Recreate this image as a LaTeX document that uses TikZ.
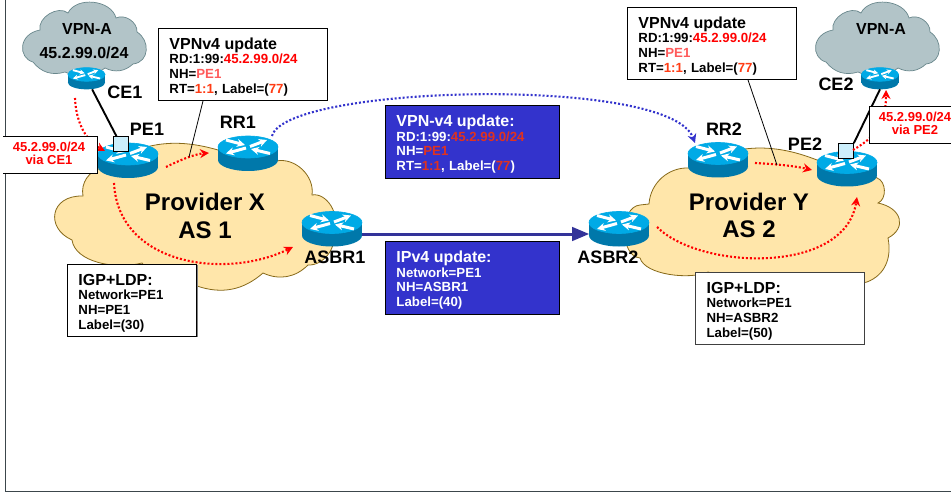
\documentclass[tikz,border=0pt]{standalone}
\usepackage{fontspec}
\setmainfont{Liberation Sans}
\usetikzlibrary{arrows,arrows.meta,positioning,shapes,calc}
\definecolor{cloudgray}{RGB}{178,196,200}
\definecolor{clouddark}{RGB}{105,135,140}
\definecolor{cloudsand}{RGB}{255,230,170}
\definecolor{sandedge}{RGB}{135,105,25}
\definecolor{routertop}{RGB}{0,170,230}
\definecolor{routerside}{RGB}{0,120,170}
\definecolor{boxblue}{RGB}{51,51,204}
\definecolor{linkblue}{RGB}{51,51,153}
\definecolor{hopred}{RGB}{255,0,0}
\definecolor{nhred}{RGB}{255,90,90}
\definecolor{rtred}{RGB}{255,60,20}
\definecolor{darkred}{RGB}{225,50,30}
\definecolor{framegray}{RGB}{60,70,75}
\tikzset{
    routernode/.style={inner sep=0pt,outer sep=0pt},
    rlabel/.style={font=\bfseries\fontsize{18}{20}\selectfont,inner sep=0pt},
    cloudlabel/.style={font=\bfseries\fontsize{16}{18}\selectfont,inner sep=0pt},
    aslabel/.style={font=\bfseries\fontsize{24}{28}\selectfont,inner sep=0pt},
    redlabel/.style={font=\bfseries\fontsize{13}{13}\selectfont,text=hopred,inner sep=0pt},
    infobox/.style={draw=black,fill=white,line width=0.9pt,anchor=north west,align=left,
        inner xsep=11pt,inner ysep=0pt,font=\bfseries\fontsize{13.25}{14.7}\selectfont},
    bluebox/.style={infobox,fill=boxblue,text=white},
    hop/.style={draw=hopred,line width=2.1pt,dash pattern=on 2pt off 2pt,-{Stealth[length=9pt,width=9pt]}},
    signal/.style={draw=boxblue,line width=2.1pt,dash pattern=on 2pt off 2pt,-{Stealth[length=9pt,width=9pt]}},
    leader/.style={draw=black,line width=0.8pt},
    access/.style={draw=black,line width=1.9pt},
    portbox/.style={draw=black,fill=cyan!20,line width=0.7pt,minimum size=15pt,inner sep=0pt},
}
\newcommand{\bigline}[1]{{\rule{0pt}{16pt}\fontsize{16}{18}\selectfont #1}}
% router: name, x, y, scale
\newcommand{\routericon}[4]{
    \node[routernode,minimum width=#4*60pt,minimum height=#4*35pt] (#1) at (#2,#3) {};
    \begin{scope}[shift={(#2,#3)},scale=#4]
        \fill[routerside] (-30,-6.5) rectangle (30,6.5);
        \fill[routerside] (0,6.5) ellipse (30 and 11);
        \draw[routertop,fill=routertop,line width=0.6pt] (0,-6.5) ellipse (30 and 11);
        \draw[white,line width=#4*3pt,-{Stealth[length=#4*8pt,width=#4*8pt]}] (2,-7) -- (19,-13.5);
        \draw[white,line width=#4*3pt,-{Stealth[length=#4*8pt,width=#4*8pt]}] (-2,-5.5) -- (-22,0);
        \draw[white,line width=#4*3pt,-{Stealth[length=#4*8pt,width=#4*8pt]}] (-22,-13.5) -- (-3,-8.5);
        \draw[white,line width=#4*3pt,-{Stealth[length=#4*8pt,width=#4*8pt]}] (22,0) -- (3,-4.5);
    \end{scope}
}
% gray site cloud, shifted sideways
\newcommand{\sitecloud}[1]{
    \draw[shift={(#1,0)},draw=clouddark,fill=cloudgray,line width=0.7pt]
        (33,62) .. controls (18,58) and (18,34) .. (40,30) to[bend left=70] (68,13)
        to[bend left=70] (116,18) to[bend left=60] (137,32)
        .. controls (150,40) and (150,62) .. (133,64) to[bend left=35] (105,68)
        to[bend left=30] (65,72) to[bend left=35] (33,62) -- cycle;
}
\begin{document}
\begin{tikzpicture}[x=1pt,y=-1pt]
    \useasboundingbox (0,0) rectangle (951,492);
    \draw[framegray,line width=1pt] (5,0) -- (5,491) -- (951,491);

    % clouds
    \sitecloud{0}
    \sitecloud{793}
    \draw[draw=sandedge,fill=cloudsand,line width=0.8pt]
        (83,196) to[bend left=45] (102,168) to[bend left=25] (218,150) to[bend left=15] (276,161)
        to[bend left=55] (312,195) to[bend left=70] (332,228) to[bend left=60] (308,265)
        to[bend left=35] (263,273) to[bend left=30] (197,286) to[bend left=30] (142,263)
        .. controls (115,270) and (75,262) .. (72,240)
        .. controls (45,228) and (50,195) .. (83,196) -- cycle;
    \draw[draw=sandedge,fill=cloudsand,line width=0.8pt]
        (649,204) to[bend left=45] (690,168) to[bend left=25] (817,160) to[bend left=25] (877,178)
        to[bend left=70] (878,203) .. controls (902,208) and (907,228) .. (888,238)
        .. controls (892,258) and (885,275) .. (867,282)
        to[bend left=15] (708,272) .. controls (690,280) and (645,275) .. (640,258)
        to[bend left=85] (640,205) -- cycle;

    % routers
    \routericon{ce1}{86.5}{78.5}{0.62}
    \routericon{pe1}{128}{160.5}{1}
    \routericon{rr1}{248}{153.5}{1}
    \routericon{asbr1}{332}{229}{1}
    \routericon{asbr2}{619}{229}{1}
    \routericon{rr2}{718}{160}{1}
    \routericon{pe2}{847}{169}{1}
    \routericon{ce2}{880}{78.5}{0.62}

    \node[portbox] (port1) at (120.5,144) {};
    \node[portbox] (port2) at (846,151) {};
    \draw[access] (ce1) -- (port1);
    \draw[access] (ce2.south) -- (port2.north east);
    \draw[linkblue,line width=3pt,-triangle 45] ([yshift=-5pt]asbr1.east) -- ([yshift=-5pt]asbr2.west);

    % labels on the routers
    \node[rlabel] (ce1name) at (125,92) {CE1};
    \node[rlabel] (pe1name) at (147,129) {PE1};
    \node[rlabel] (rr1name) at (238,122) {RR1};
    \node[rlabel] (asbr1name) at (335,257) {ASBR1};
    \node[rlabel] (asbr2name) at (608,257) {ASBR2};
    \node[rlabel] (rr2name) at (724,129) {RR2};
    \node[rlabel] (pe2name) at (805,144) {PE2};
    \node[rlabel] (ce2name) at (836,84) {CE2};
    \node[cloudlabel] (vpna1) at (87,29) {VPN-A};
    \node[cloudlabel] (vpnnet) at (84,53) {45.2.99.0/24};
    \node[cloudlabel] (vpna2) at (881,29) {VPN-A};
    \node[aslabel] (provx) at (205,202) {Provider X};
    \node[aslabel] (asone) at (205,230) {AS 1};
    \node[aslabel] (provy) at (749,202) {Provider Y};
    \node[aslabel] (astwo) at (749,229) {AS 2};

    % route propagation
    \coordinate (hopa) at (75,98);
    \coordinate (hopb) at (105,151);
    \draw[hop] (hopa) .. controls (76,125) and (88,142) .. (hopb);
    \coordinate (hopc) at (166,167);
    \coordinate (hopd) at (209,153);
    \draw[hop] (hopc) .. controls (180,160) and (195,154) .. (hopd);
    \coordinate (hope) at (114,183);
    \coordinate (hopf) at (293,247);
    \draw[hop] (hope) .. controls (118,265) and (225,280) .. (hopf);
    \coordinate (hopg) at (755,163);
    \coordinate (hoph) at (812,170);
    \draw[hop] (hopg) .. controls (775,164) and (795,166) .. (hoph);
    \coordinate (hopi) at (657,227);
    \coordinate (hopj) at (857,197);
    \draw[hop] (hopi) .. controls (700,270) and (845,275) .. (hopj);
    \coordinate (hopk) at (853,150);
    \coordinate (hopl) at (886,90);
    \draw[hop] (hopk) .. controls (875,137) and (886,125) .. (hopl);
    \coordinate (siga) at (272,136);
    \coordinate (sigb) at (695,143);
    \draw[signal] (siga) .. controls (285,85) and (670,75) .. (sigb);

    % boxes
    \draw[fill=white,line width=0.9pt] (3,136) -| (97,173) -- (3,173);
    \node[redlabel] (viace1a) at (49,147) {45.2.99.0/24};
    \node[redlabel] (viace1b) at (49,160) {via CE1};
    \draw[fill=white,line width=0.9pt] (953,106) -| (869,143) -- (953,143);
    \node[redlabel] (viape2a) at (915,117) {45.2.99.0/24};
    \node[redlabel] (viape2b) at (915,130) {via PE2};

    \node[infobox,text width=147pt,minimum height=72pt] (vpnx) at (158,28)
        {\bigline{VPNv4 update}\\RD:1:99:\textcolor{hopred}{45.2.99.0/24}\\NH=\textcolor{nhred}{PE1}\\RT=\textcolor{rtred}{1:1}, Label=(\textcolor{rtred}{77})};
    \node[infobox,text width=147pt,minimum height=72pt] (vpny) at (627,7)
        {\bigline{VPNv4 update}\\RD:1:99:\textcolor{hopred}{45.2.99.0/24}\\NH=\textcolor{nhred}{PE1}\\RT=\textcolor{rtred}{1:1}, Label=(\textcolor{rtred}{77})};
    \node[bluebox,text width=152pt,minimum height=73pt] (vpnmid) at (385,105)
        {\bigline{VPN-v4 update:}\\RD:1:99:\textcolor{darkred}{45.2.99.0/24}\\NH=\textcolor{darkred}{PE1}\\RT=\textcolor{darkred}{1:1}, Label=(\textcolor{darkred}{77})};
    \node[bluebox,text width=152pt,minimum height=73pt] (ipvmid) at (385,241)
        {\bigline{IPv4 update:}\\Network=PE1\\NH=ASBR1\\Label=(40)};
    \draw[gray,line width=2pt] (196.5,265) -- (196.5,336.5);
    \node[infobox,text width=107pt,minimum height=72pt] (igpx) at (67,264)
        {\bigline{IGP+LDP:}\\Network=PE1\\NH=PE1\\Label=(30)};
    \node[infobox,draw=black!75,line width=1.2pt,text width=147pt,minimum height=72pt] (igpy) at (695,272)
        {\bigline{IGP+LDP:}\\Network=PE1\\NH=ASBR2\\Label=(50)};

    \coordinate (tipx) at (189,157);
    \coordinate (tipy) at (777,165);
    \draw[leader] (vpnx.south west) ++(45,0) -- (tipx);
    \draw[leader] (vpny.south west) ++(121,0) -- (tipy);
\end{tikzpicture}
\end{document}
